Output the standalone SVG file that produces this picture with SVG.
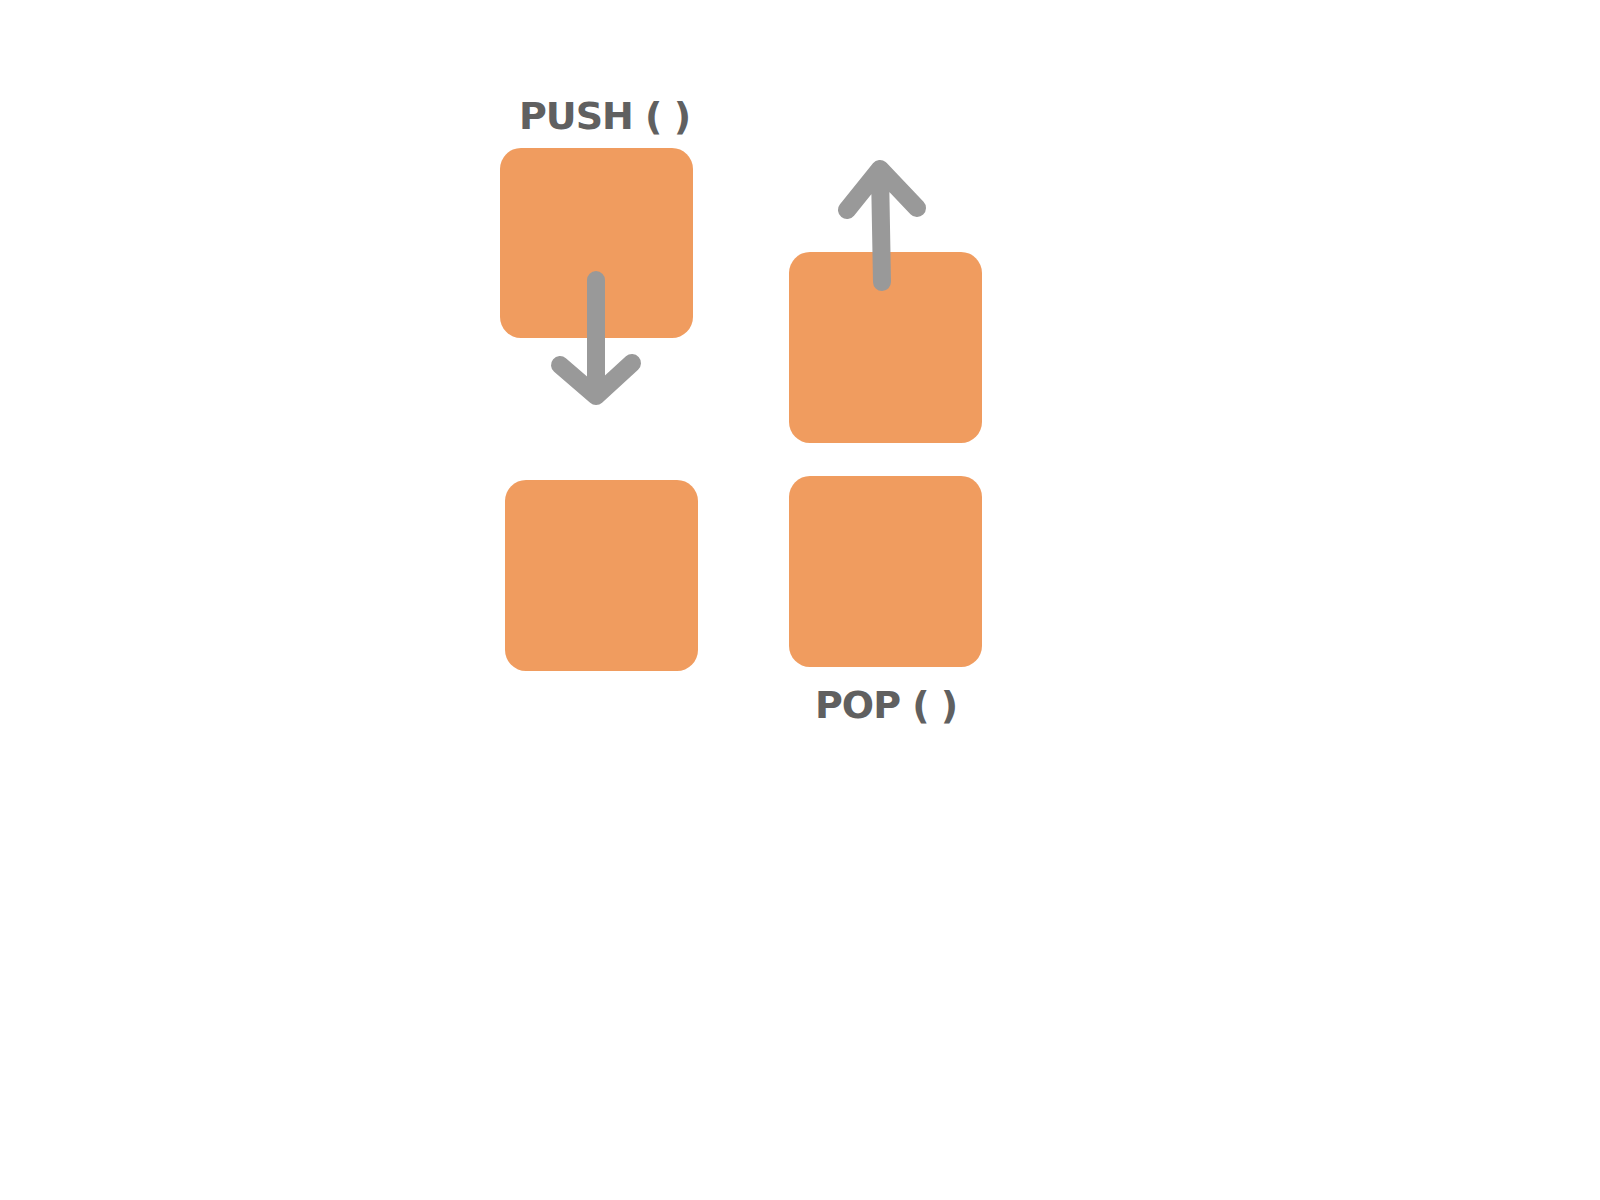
<svg xmlns="http://www.w3.org/2000/svg" width="1600" height="1200" viewBox="0 0 1600 1200">
<style>
.box{fill:#F09C5F}
.lbl{font-family:"DejaVu Sans",sans-serif;font-weight:bold;font-size:38px;letter-spacing:-1px;fill:#606060}
.arr{fill:none;stroke:#999999;stroke-width:18;stroke-linecap:round;stroke-linejoin:round}
</style>
<rect width="1600" height="1200" fill="#ffffff"/>
<g id="push-label"><text class="lbl" x="519" y="129">PUSH ( )</text></g>
<g id="push-top"><rect class="box" x="500" y="148" width="193" height="190" rx="21"/></g>
<g id="push-bottom"><rect class="box" x="505" y="480" width="193" height="191" rx="21"/></g>
<g id="pop-top"><rect class="box" x="789" y="252" width="193" height="191" rx="21"/></g>
<g id="pop-bottom"><rect class="box" x="789" y="476" width="193" height="191" rx="21"/></g>
<g id="pop-label"><text class="lbl" x="815" y="718">POP ( )</text></g>
<g id="connectors">
<path class="arr" d="M596,280 L596,396 M560,365 L596,396 L632,363"/>
<path class="arr" d="M882,282 L880,172 M847,210 L880,169 L917,208"/>
</g>
</svg>
